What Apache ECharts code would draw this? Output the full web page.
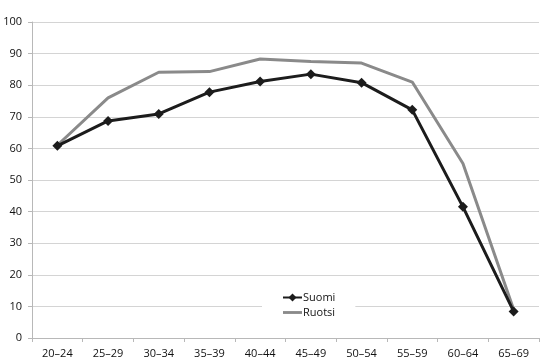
<!DOCTYPE html>
<html><head><meta charset="utf-8">
<script src="https://cdn.jsdelivr.net/npm/echarts@6/dist/echarts.min.js"></script>
<style>html,body{margin:0;padding:0;background:#fff}#c{width:548px;height:362px}</style>
</head><body><div id="c"></div>
<script>
const categories = ['20–24','25–29','30–34','35–39','40–44','45–49','50–54','55–59','60–64','65–69'];
const suomi = [60.8, 68.7, 70.9, 77.8, 81.2, 83.5, 80.8, 72.2, 41.5, 8.4];
const ruotsi = [61.0, 76.0, 84.1, 84.3, 88.3, 87.5, 87.0, 81.0, 55.2, 9.0];
const yTicks = {min: 0, max: 100, interval: 10};

const chart = echarts.init(document.getElementById('c'));
chart.setOption({
  animation: false,
  backgroundColor: '#fff',
  grid: {left: 32, right: 9, top: 22, bottom: 24},
  textStyle: {fontFamily: 'Open Sans, Liberation Sans, sans-serif'},
  legend: {
    orient: 'vertical', left: 262, top: 289,
    backgroundColor: '#fff', padding: [3, 20, 3, 20], itemGap: 4,
    itemWidth: 19, itemHeight: 10,
    textStyle: {fontSize: 11, color: '#111', padding: [0, 0, 0, -4]},
    data: [{name: 'Suomi'}, {name: 'Ruotsi', icon: 'path://M0,0h20v3H0z', itemStyle: {color: '#8a8a8a'}}]
  },
  xAxis: {
    type: 'category', data: categories, boundaryGap: true,
    axisLine: {lineStyle: {color: '#b8b8b8', width: 1}},
    axisTick: {show: true, length: 4, lineStyle: {color: '#b8b8b8'}},
    axisLabel: {fontSize: 11, color: '#111', margin: 10}
  },
  yAxis: {
    type: 'value', min: yTicks.min, max: yTicks.max, interval: yTicks.interval,
    axisLine: {show: true, lineStyle: {color: '#b8b8b8', width: 1}},
    axisTick: {show: true, length: 4, lineStyle: {color: '#b8b8b8'}},
    axisLabel: {fontSize: 11, color: '#111', margin: 10},
    splitLine: {lineStyle: {color: '#d4d4d4', width: 1}}
  },
  series: [
    {name: 'Ruotsi', type: 'line', data: ruotsi, showSymbol: false, symbol: 'none',
     lineStyle: {color: '#8a8a8a', width: 3}, itemStyle: {color: '#8a8a8a'}, z: 2},
    {name: 'Suomi', type: 'line', data: suomi, symbol: 'diamond', symbolSize: 10,
     lineStyle: {color: '#1c1c1c', width: 3}, itemStyle: {color: '#1c1c1c'}, z: 3}
  ]
});
</script></body></html>
